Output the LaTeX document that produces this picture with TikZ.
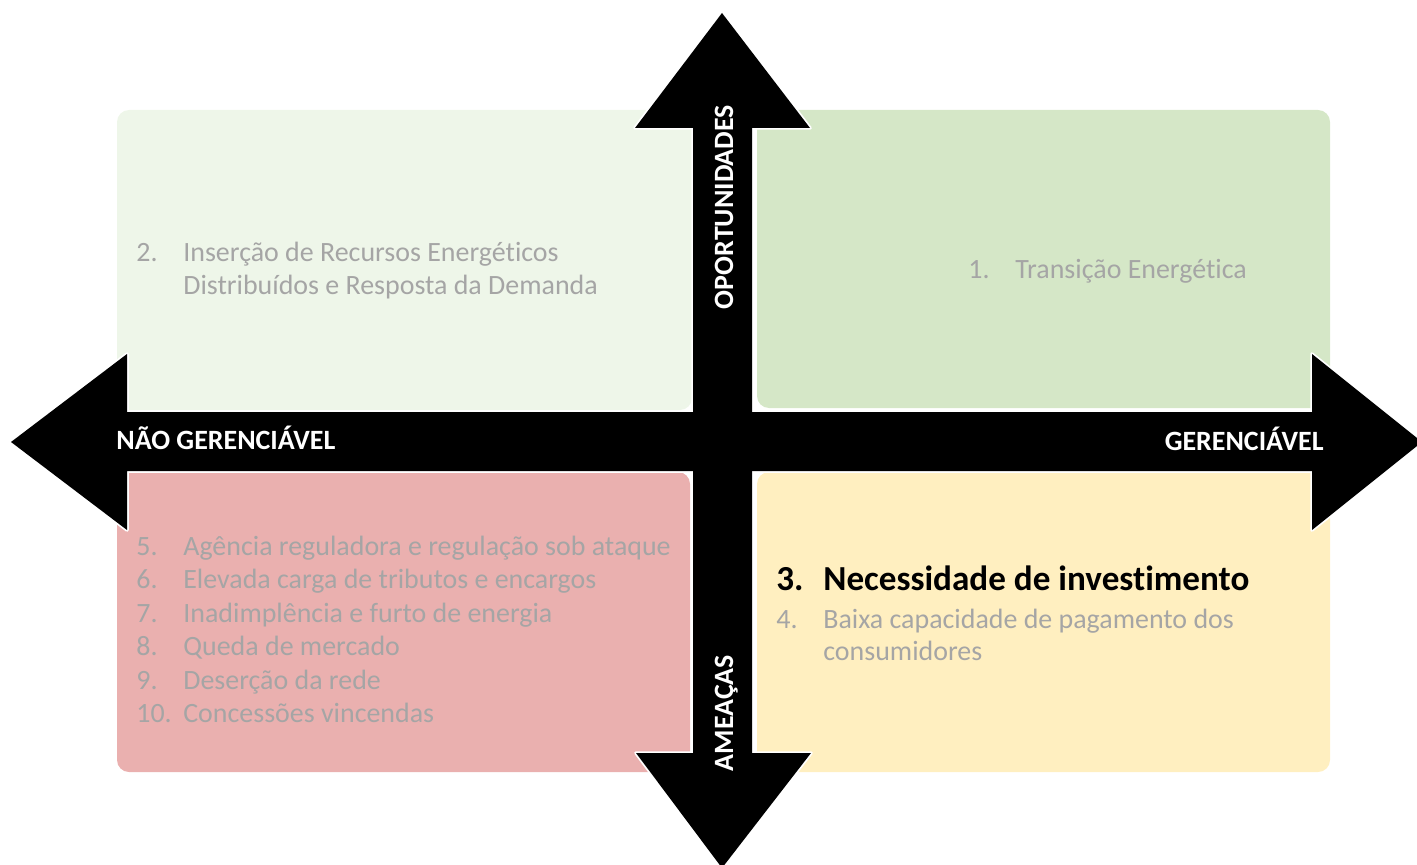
\documentclass[tikz,border=0pt]{standalone}
\usepackage{fontspec}
\setmainfont{Carlito}[Ligatures={NoCommon}]
\definecolor{tlgreen}{RGB}{238,246,233}
\definecolor{trgreen}{RGB}{213,231,199}
\definecolor{blred}{RGB}{234,176,175}
\definecolor{bryellow}{RGB}{255,239,192}
\definecolor{itemgray}{RGB}{165,165,165}
\tikzset{
  quad/.style={rounded corners=0.24cm,draw=none},
  item/.style={anchor=base west,inner sep=0pt,text=itemgray,font=\fontsize{15.9}{19}\selectfont},
  axislabel/.style={inner sep=0pt,text=white,font=\bfseries\fontsize{15.9}{19}\selectfont}
}

\begin{document}
\begin{tikzpicture}[x=0.02cm,y=-0.02cm]
  \useasboundingbox (0,0) rectangle (1417,865);
  % quadrants
  \fill[quad,tlgreen] (117,110) rectangle (692,410);
  \fill[quad,trgreen] (757,110) rectangle (1330,408);
  \fill[quad,blred] (117,472) rectangle (690,772);
  \fill[quad,bryellow] (757,472) rectangle (1330,772);
  % axes
  \def\harrow{(11,442) -- (127,354) -- (127,412) -- (1312,412) -- (1312,354) -- (1422,442) -- (1312,530) -- (1312,471) -- (127,471) -- (127,530) -- cycle}
  \def\varrow{(722,13) -- (810,128) -- (752,128) -- (752,753) -- (811,753) -- (722,868) -- (636,753) -- (693,753) -- (693,128) -- (635,128) -- cycle}
  \draw[white,line width=0.07cm,line join=round] \harrow;
  \draw[white,line width=0.07cm,line join=round] \varrow;
  \fill[black] \harrow;
  \fill[black] \varrow;
  \node[axislabel,anchor=base west] (naoger) at (116,449) {NÃO GERENCIÁVEL};
  \node[axislabel,anchor=base east] (ger) at (1324,450) {GERENCIÁVEL};
  \node[axislabel,anchor=base,rotate=90] (oport) at (733,207) {OPORTUNIDADES};
  \node[axislabel,anchor=base,rotate=90] (ameacas) at (733,713) {AMEAÇAS};
  % top left
  \node[item] (n2) at (136,261) {2.};
  \node[item] (t2a) at (183,261) {Inserção de Recursos Energéticos};
  \node[item] (t2b) at (183,294) {Distribuídos e Resposta da Demanda};
  % top right
  \node[item] (n1) at (968,278) {1.};
  \node[item] (t1) at (1015,278) {Transição Energética};
  % bottom right
  \node[item,text=black,font=\bfseries\fontsize{20}{24}\selectfont] (n3) at (776,590) {3.};
  \node[item,text=black,font=\bfseries\fontsize{20}{24}\selectfont] (t3) at (823,590) {Necessidade de investimento};
  \node[item] (n4) at (776,628) {4.};
  \node[item] (t4a) at (823,628) {Baixa capacidade de pagamento dos};
  \node[item] (t4b) at (823,660) {consumidores};
  % bottom left
  \node[item] (n5) at (136,555) {5.};
  \node[item] (t5) at (183,555) {Agência reguladora e regulação sob ataque};
  \node[item] (n6) at (136,588.5) {6.};
  \node[item] (t6) at (183,588.5) {Elevada carga de tributos e encargos};
  \node[item] (n7) at (136,622) {7.};
  \node[item] (t7) at (183,622) {Inadimplência e furto de energia};
  \node[item] (n8) at (136,655.5) {8.};
  \node[item] (t8) at (183,655.5) {Queda de mercado};
  \node[item] (n9) at (136,689) {9.};
  \node[item] (t9) at (183,689) {Deserção da rede};
  \node[item] (n10) at (136,722.5) {10.};
  \node[item] (t10) at (183,722.5) {Concessões vincendas};
\end{tikzpicture}
\end{document}
